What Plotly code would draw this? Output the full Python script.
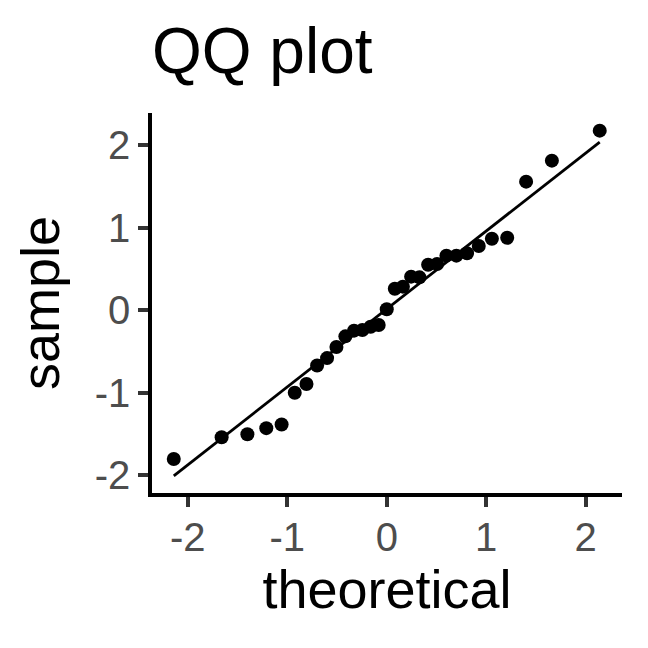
import plotly.graph_objects as go

# Data
theoretical = [-2.141, -1.660, -1.401, -1.211, -1.057, -0.925, -0.807, -0.700,
               -0.600, -0.506, -0.416, -0.329, -0.245, -0.162, -0.081, 0.0,
               0.081, 0.162, 0.245, 0.329, 0.416, 0.506, 0.600, 0.700,
               0.807, 0.925, 1.057, 1.211, 1.401, 1.660, 2.141]
sample = [-1.805, -1.54, -1.505, -1.43, -1.385, -1.00, -0.895, -0.67,
          -0.58, -0.445, -0.316, -0.247, -0.239, -0.199, -0.178, 0.012,
          0.262, 0.287, 0.408, 0.40, 0.553, 0.562, 0.663, 0.663,
          0.692, 0.78, 0.869, 0.881, 1.561, 1.816, 2.18]
line_x = [-2.141, 2.141]
line_y = [-2.009, 2.041]
x_ticks = [-2, -1, 0, 1, 2]
y_ticks = [-2, -1, 0, 1, 2]

FONT = "Liberation Sans, Arial, sans-serif"

fig = go.Figure()
fig.add_trace(go.Scatter(x=theoretical, y=sample, mode="markers",
                         marker=dict(color="black", size=14, line=dict(width=0)),
                         showlegend=False, hoverinfo="skip"))
fig.add_trace(go.Scatter(x=line_x, y=line_y, mode="lines",
                         line=dict(color="black", width=2.8),
                         showlegend=False, hoverinfo="skip"))

axis_common = dict(
    showgrid=False, zeroline=False, showline=True, linecolor="black", linewidth=3.5,
    ticks="outside", ticklen=10, tickwidth=3.5, tickcolor="#333333",
    tickfont=dict(family=FONT, size=40, color="#4D4D4D"),
    mirror=False, automargin=False,
)

fig.update_layout(
    width=648, height=648,
    paper_bgcolor="white", plot_bgcolor="white",
    margin=dict(l=144, r=34, t=105, b=163),
    title=dict(text="QQ plot", font=dict(family=FONT, size=64, color="black"),
               x=0, xref="paper", xanchor="left",
               y=1 - 65 / 648, yref="container", yanchor="bottom"),
    xaxis=dict(range=[-2.36, 2.365], tickvals=x_ticks, ticktext=[str(v) for v in x_ticks],
               ticklabelstandoff=-4,
               title=dict(text="theoretical", font=dict(family=FONT, size=54, color="black"),
                          standoff=12),
               **axis_common),
    yaxis=dict(range=[-2.217, 2.394], tickvals=y_ticks, ticktext=[str(v) for v in y_ticks],
               title=dict(text="sample", font=dict(family=FONT, size=54, color="black"),
                          standoff=19),
               **axis_common),
)

fig.write_html("out.html")
